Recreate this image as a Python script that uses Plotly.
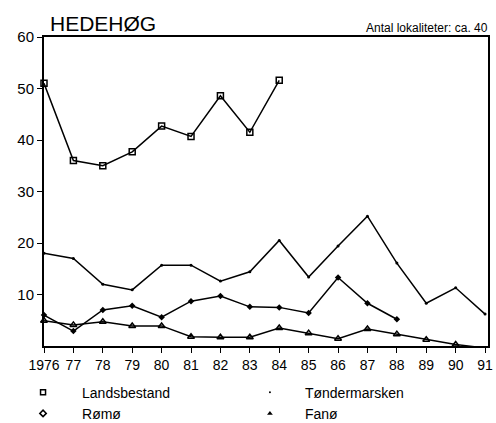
import plotly.graph_objects as go

# years on the x axis
years = list(range(1976, 1992))
tick_text = ["1976"] + [str(y)[2:] for y in years[1:]]

# number of breeding pairs
landsbestand = [51, 36, 35, 37.7, 42.7, 40.7, 48.6, 41.5, 51.6]
toendermarsken = [18, 17, 12, 10.9, 15.7, 15.7, 12.6, 14.4, 20.5, 13.4, 19.4, 25.2, 16.1, 8.3, 11.3, 6.2]
roemoe = [6, 2.9, 7, 7.8, 5.6, 8.7, 9.7, 7.6, 7.5, 6.4, 13.3, 8.3, 5.2]
fanoe = [4.9, 4.1, 4.7, 3.9, 3.9, 1.8, 1.7, 1.7, 3.5, 2.5, 1.4, 3.3, 2.3, 1.2, 0.3, -0.4]

FONT = "Arial, Liberation Sans, sans-serif"

series = [
    ("Landsbestand", landsbestand, dict(symbol="square-open", size=6, line=dict(width=1.5, color="black"))),
    ("Tøndermarsken", toendermarsken, dict(symbol="circle", size=3)),
    ("Rømø", roemoe, dict(symbol="diamond", size=5)),
    ("Fanø", fanoe, dict(symbol="triangle-up-open", size=6, line=dict(width=1.5, color="black"))),
]

fig = go.Figure()

for name, vals, mk in series:
    fig.add_trace(go.Scatter(
        x=years[:len(vals)], y=vals, name=name,
        mode="lines+markers",
        line=dict(color="black", width=1.5),
        marker=dict(color="black", **mk),
        cliponaxis=False, showlegend=False,
    ))

# legend only shows the symbols, no line; two columns = two legends
legend_marks = [
    ("Landsbestand", "legend", dict(symbol="square-open", size=5, line=dict(width=1.5, color="black"))),
    ("Rømø", "legend", dict(symbol="diamond-open", size=5, line=dict(width=1.5, color="black"))),
    ("Tøndermarsken", "legend2", dict(symbol="circle", size=2)),
    ("Fanø", "legend2", dict(symbol="triangle-up", size=5)),
]
for name, leg, mk in legend_marks:
    fig.add_trace(go.Scatter(
        x=[None], y=[None], name=name, mode="markers", legend=leg, legendgroup=name,
        marker=dict(color="black", **mk),
    ))

fig.add_annotation(
    text="HEDEHØG", xref="paper", yref="paper", x=0.008, y=1.0,
    xanchor="left", yanchor="bottom", showarrow=False,
    font=dict(family=FONT, size=21, color="black"),
)
fig.add_annotation(
    text="Antal lokaliteter: ca. 40", xref="paper", yref="paper", x=1.005, y=1.0,
    xanchor="right", yanchor="bottom", showarrow=False,
    font=dict(family=FONT, size=12, color="black"),
)

fig.update_xaxes(
    range=[1976, 1991.1], tickvals=years, ticktext=tick_text,
    showgrid=False, zeroline=False, showline=True, linecolor="black", linewidth=2,
    mirror=True, ticks="outside", ticklen=5, tickcolor="black",
    tickfont=dict(family=FONT, size=14, color="black"),
)
fig.update_yaxes(
    range=[0, 60], tickvals=[10, 20, 30, 40, 50, 60],
    showgrid=False, zeroline=False, showline=True, linecolor="black", linewidth=2,
    mirror=True, ticks="outside", ticklen=5, tickcolor="black",
    tickfont=dict(family=FONT, size=15, color="black"),
)

leg_common = dict(
    orientation="v", yanchor="top", xanchor="left", y=-0.099,
    tracegroupgap=0, bgcolor="rgba(0,0,0,0)",
    font=dict(family=FONT, size=14, color="black"),
)

fig.update_layout(
    width=496, height=423,
    margin=dict(l=44, r=8, t=37, b=77, autoexpand=False),
    plot_bgcolor="white", paper_bgcolor="white",
    font=dict(family=FONT, color="black"),
    legend=dict(x=-0.09, itemwidth=68, **leg_common),
    legend2=dict(x=0.43, itemwidth=60, **leg_common),
)

# drop the default body margin so the figure fills the window
fig.write_html(
    "out.html",
    config={"displayModeBar": False},
    post_script="document.body.style.margin='0';document.body.style.overflow='hidden';",
)
